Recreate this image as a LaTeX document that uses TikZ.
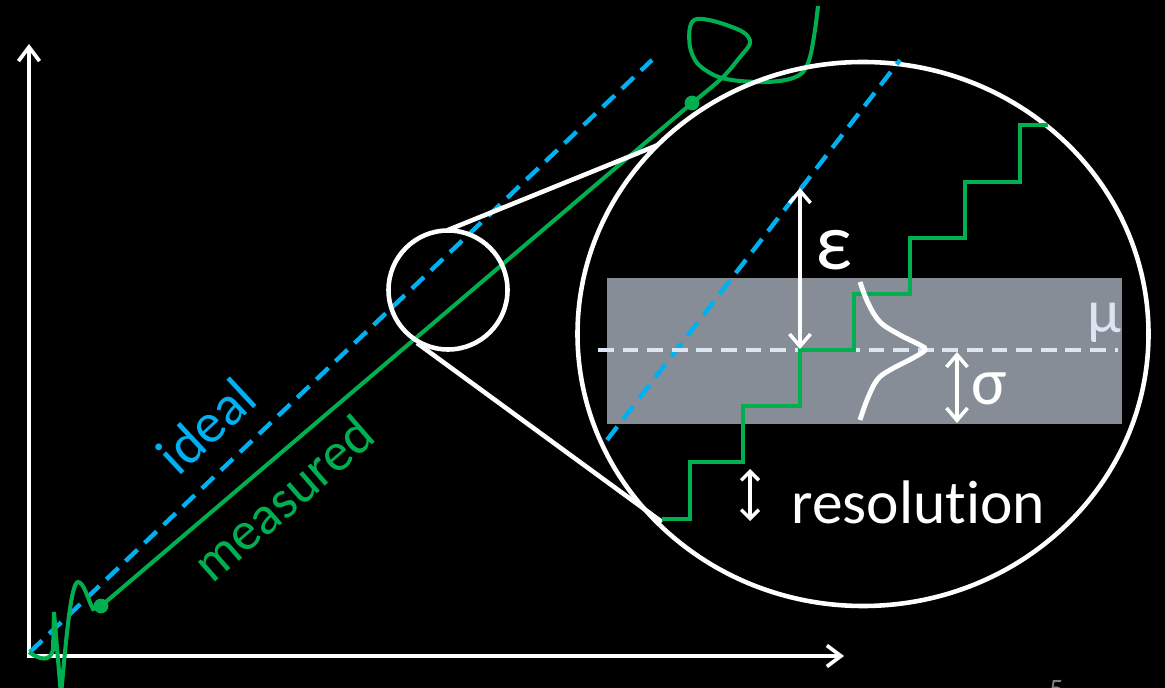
\documentclass[tikz,border=0pt]{standalone}
\usepackage{fontspec}
\setmainfont{Carlito}[RawFeature={-liga;-dlig}]
\usetikzlibrary{arrows.meta}
\definecolor{IdealBlue}{RGB}{0,176,240}
\definecolor{MeasGreen}{RGB}{0,176,80}
\definecolor{BandGray}{RGB}{134,141,150}
\definecolor{PaleBlue}{RGB}{220,230,242}

\begin{document}
\begin{tikzpicture}[x=0.02cm, y=-0.02cm,
    axis/.style={draw=white, line width=2.1pt, -{Straight Barb[length=8pt,width=12pt]}},
    ideal/.style={draw=IdealBlue, line width=2.5pt, dash pattern=on 9.5pt off 5.5pt},
    meas/.style={draw=MeasGreen, line width=2.3pt},
    lens/.style={draw=white, line width=2.6pt},
    dbl/.style={draw=white, line width=2pt, {Straight Barb[length=7pt,width=12pt]}-{Straight Barb[length=7pt,width=12pt]}},
    dblsmall/.style={draw=white, line width=2pt, {Straight Barb[length=5pt,width=10pt]}-{Straight Barb[length=5pt,width=10pt]}},
    lbl/.style={inner sep=0pt, font=\fontsize{35}{35}\selectfont}
  ]
  \fill[black] (0,0) rectangle (1165,688);
  \useasboundingbox (0,0) rectangle (1165,688);

  % axes
  \draw[axis] (29,657) -- (29,44);
  \draw[axis] (27,656) -- (844,656);

  % ideal and measured
  \draw[ideal] (30,652) -- (652,60);
  \draw[meas] (101,606) -- (692,103);
  \draw[meas] (29,652) .. controls (40,660) and (50,662) .. (53,650) -- (54,612) -- (61,695)
    .. controls (66,640) and (71,582) .. (78,582) .. controls (84,582) and (88,600) .. (93,609) -- (101,606);
  \draw[meas] plot[smooth, tension=0.55] coordinates {(692,103) (722,78) (740,57) (750,43) (743,32)
    (717,22) (697,19) (690,27) (690,47) (697,63) (710,73) (722,78) (740,81) (767,82) (790,79)
    (803,72) (810,57) (815,30) (818,6)};
  \fill[MeasGreen] (101,606) circle (4.2pt);
  \fill[MeasGreen] (692,103) circle (4.2pt);

  \node[lbl, text=IdealBlue, rotate=43, font=\fontsize{32}{32}\selectfont] (idl) at (206,426) {ideal};
  \node[lbl, text=MeasGreen, rotate=41, font=\fontsize{31}{31}\selectfont] (msr) at (283,498) {measured};

  % magnifier
  \draw[lens] (448,290) circle (59.5);
  \draw[lens] (863,334) ellipse [x radius=285.5, y radius=272];
  \draw[lens] (448,230) -- (658,145);
  \draw[lens] (417,343) -- (662,522);

  % zoomed view
  \fill[BandGray] (607,278) rectangle (1122,424);
  \draw[ideal] (607,440) -- (900,60);
  \draw[draw=PaleBlue, line width=2.2pt, dash pattern=on 9pt off 5pt] (598,350) -- (1118,350);
  \draw[meas] (662,519) -- (690,519) -- (690,462) -- (743,462) -- (743,406) -- (800,406) -- (800,350)
    -- (854,350) -- (854,294) -- (910,294) -- (910,238) -- (965,238) -- (965,182) -- (1020,182)
    -- (1020,125) -- (1048,125);
  \draw[white, line width=2.8pt] plot[smooth, tension=0.6] coordinates {(860,282) (868,303) (880,322)
    (900,335) (920,345) (925,350) (913,358) (890,370) (877,380) (867,400) (860,420)};

  \draw[dbl] (800,188) -- (800,349);
  \draw[dbl] (957,352) -- (957,423);
  \draw[dblsmall] (750,469) -- (750,521);

  \node[lbl, text=white, anchor=base west, font=\fontsize{46}{46}\selectfont] (eps) at (815,270) {ε};
  \node[lbl, text=PaleBlue, anchor=base] (mu) at (1104,333) {μ};
  \node[lbl, text=white, anchor=base west, font=\fontsize{38}{38}\selectfont] (sig) at (971,405) {σ};
  \node[lbl, text=white, anchor=base west] (res) at (791,523) {resolut\kern0pt ion};

  \node[inner sep=0pt, text=gray, anchor=north west, font=\fontsize{16}{16}\selectfont] (pg) at (1049,680) {5};
\end{tikzpicture}
\end{document}
